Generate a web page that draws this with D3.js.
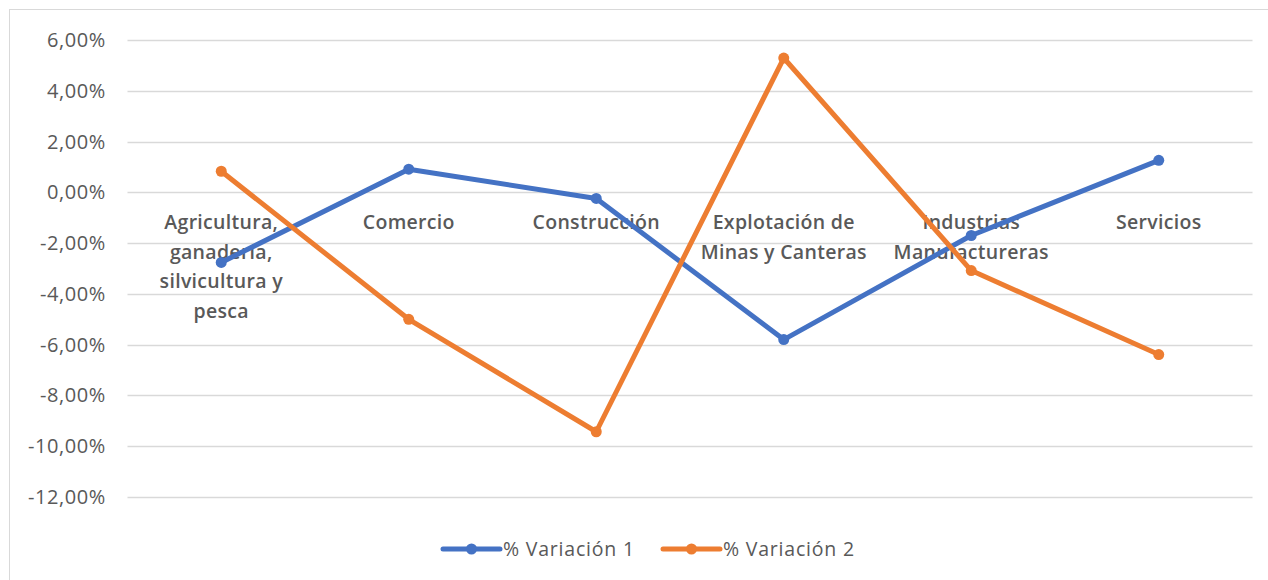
<!DOCTYPE html>
<html>
<head>
<meta charset="utf-8">
<script src="https://cdn.jsdelivr.net/npm/d3@7"></script>
<style>
  html, body { margin: 0; padding: 0; background: #fff; }
  svg { display: block; }
  text { font-family: "Open Sans", "Liberation Sans", sans-serif; }
</style>
</head>
<body>
<svg id="chart" width="1268" height="580"></svg>
<script>
const categories = ["Agricultura, ganadería, silvicultura y pesca", "Comercio", "Construcción", "Explotación de Minas y Canteras", "Industrias Manufactureras", "Servicios"];
const categoryLines = [["Agricultura,", "ganadería,", "silvicultura y", "pesca"], ["Comercio"], ["Construcción"], ["Explotación de", "Minas y Canteras"], ["Industrias", "Manufactureras"], ["Servicios"]];
const variacion1 = [-0.0276, 0.0091, -0.0024, -0.0580, -0.0170, 0.0126];
const variacion2 = [0.0083, -0.0500, -0.0943, 0.0529, -0.0308, -0.0639];
const seriesNames = ["% Variación 1", "% Variación 2"];
const yTicks = [0.06, 0.04, 0.02, 0, -0.02, -0.04, -0.06, -0.08, -0.10, -0.12];

const colors = ["#4472C4", "#ED7D31"];
const svg = d3.select("#chart");

// outer frame
svg.append("rect").attr("x", 9.5).attr("y", 9.5).attr("width", 1300).attr("height", 620)
  .attr("fill", "none").attr("stroke", "#d9d9d9").attr("stroke-width", 1);

const left = 127.5, right = 1252.5;
const x = d3.scaleBand().domain(categories).range([left, right]);
const y = d3.scaleLinear().domain([-0.12, 0.06]).range([497, 40]);

const fmt = v => (v < 0 ? "-" : "") + Math.abs(v * 100).toFixed(2).replace(".", ",") + "%";

// gridlines
svg.append("g").selectAll("line").data(yTicks).join("line")
  .attr("x1", left).attr("x2", right)
  .attr("y1", d => Math.round(y(d)) + 0.5).attr("y2", d => Math.round(y(d)) + 0.5)
  .attr("stroke", "#d9d9d9").attr("stroke-width", 1.3);

// y tick labels
svg.append("g").selectAll("text").data(yTicks).join("text")
  .attr("x", 106).attr("y", d => y(d)).attr("dy", "0.35em")
  .attr("text-anchor", "end").attr("fill", "#595959")
  .attr("font-size", 20).attr("letter-spacing", 0.6)
  .text(fmt);

// category labels
const catG = svg.append("g").selectAll("text").data(categories).join("text")
  .attr("text-anchor", "middle").attr("fill", "#595959")
  .attr("font-size", 19.5).attr("font-weight", 600).attr("letter-spacing", 0.3);
catG.each(function(d, i) {
  const t = d3.select(this);
  categoryLines[i].forEach((ln, j) => {
    t.append("tspan").attr("x", x(d) + x.bandwidth() / 2).attr("y", 229 + j * 29.5).text(ln);
  });
});

// lines
const series = [variacion1, variacion2];
const line = d3.line().x((d, i) => x(categories[i]) + x.bandwidth() / 2).y(d => y(d));
series.forEach((s, k) => {
  svg.append("path").datum(s).attr("d", line)
    .attr("fill", "none").attr("stroke", colors[k]).attr("stroke-width", 5)
    .attr("stroke-linejoin", "round").attr("stroke-linecap", "round");
  svg.append("g").selectAll("circle").data(s).join("circle")
    .attr("cx", (d, i) => x(categories[i]) + x.bandwidth() / 2).attr("cy", d => y(d))
    .attr("r", 5.5).attr("fill", colors[k]);
});

// legend
const legX = [443, 663];
seriesNames.forEach((name, k) => {
  const g = svg.append("g").attr("transform", `translate(${legX[k]},549)`);
  g.append("line").attr("x1", 0).attr("x2", 57).attr("y1", 0).attr("y2", 0)
    .attr("stroke", colors[k]).attr("stroke-width", 5).attr("stroke-linecap", "round");
  g.append("circle").attr("cx", 28.5).attr("cy", 0).attr("r", 5.5).attr("fill", colors[k]);
  g.append("text").attr("x", 60).attr("y", 0).attr("dy", "0.35em")
    .attr("fill", "#595959").attr("font-size", 19.5).attr("letter-spacing", 0.8).text(name);
});
</script>
</body>
</html>
